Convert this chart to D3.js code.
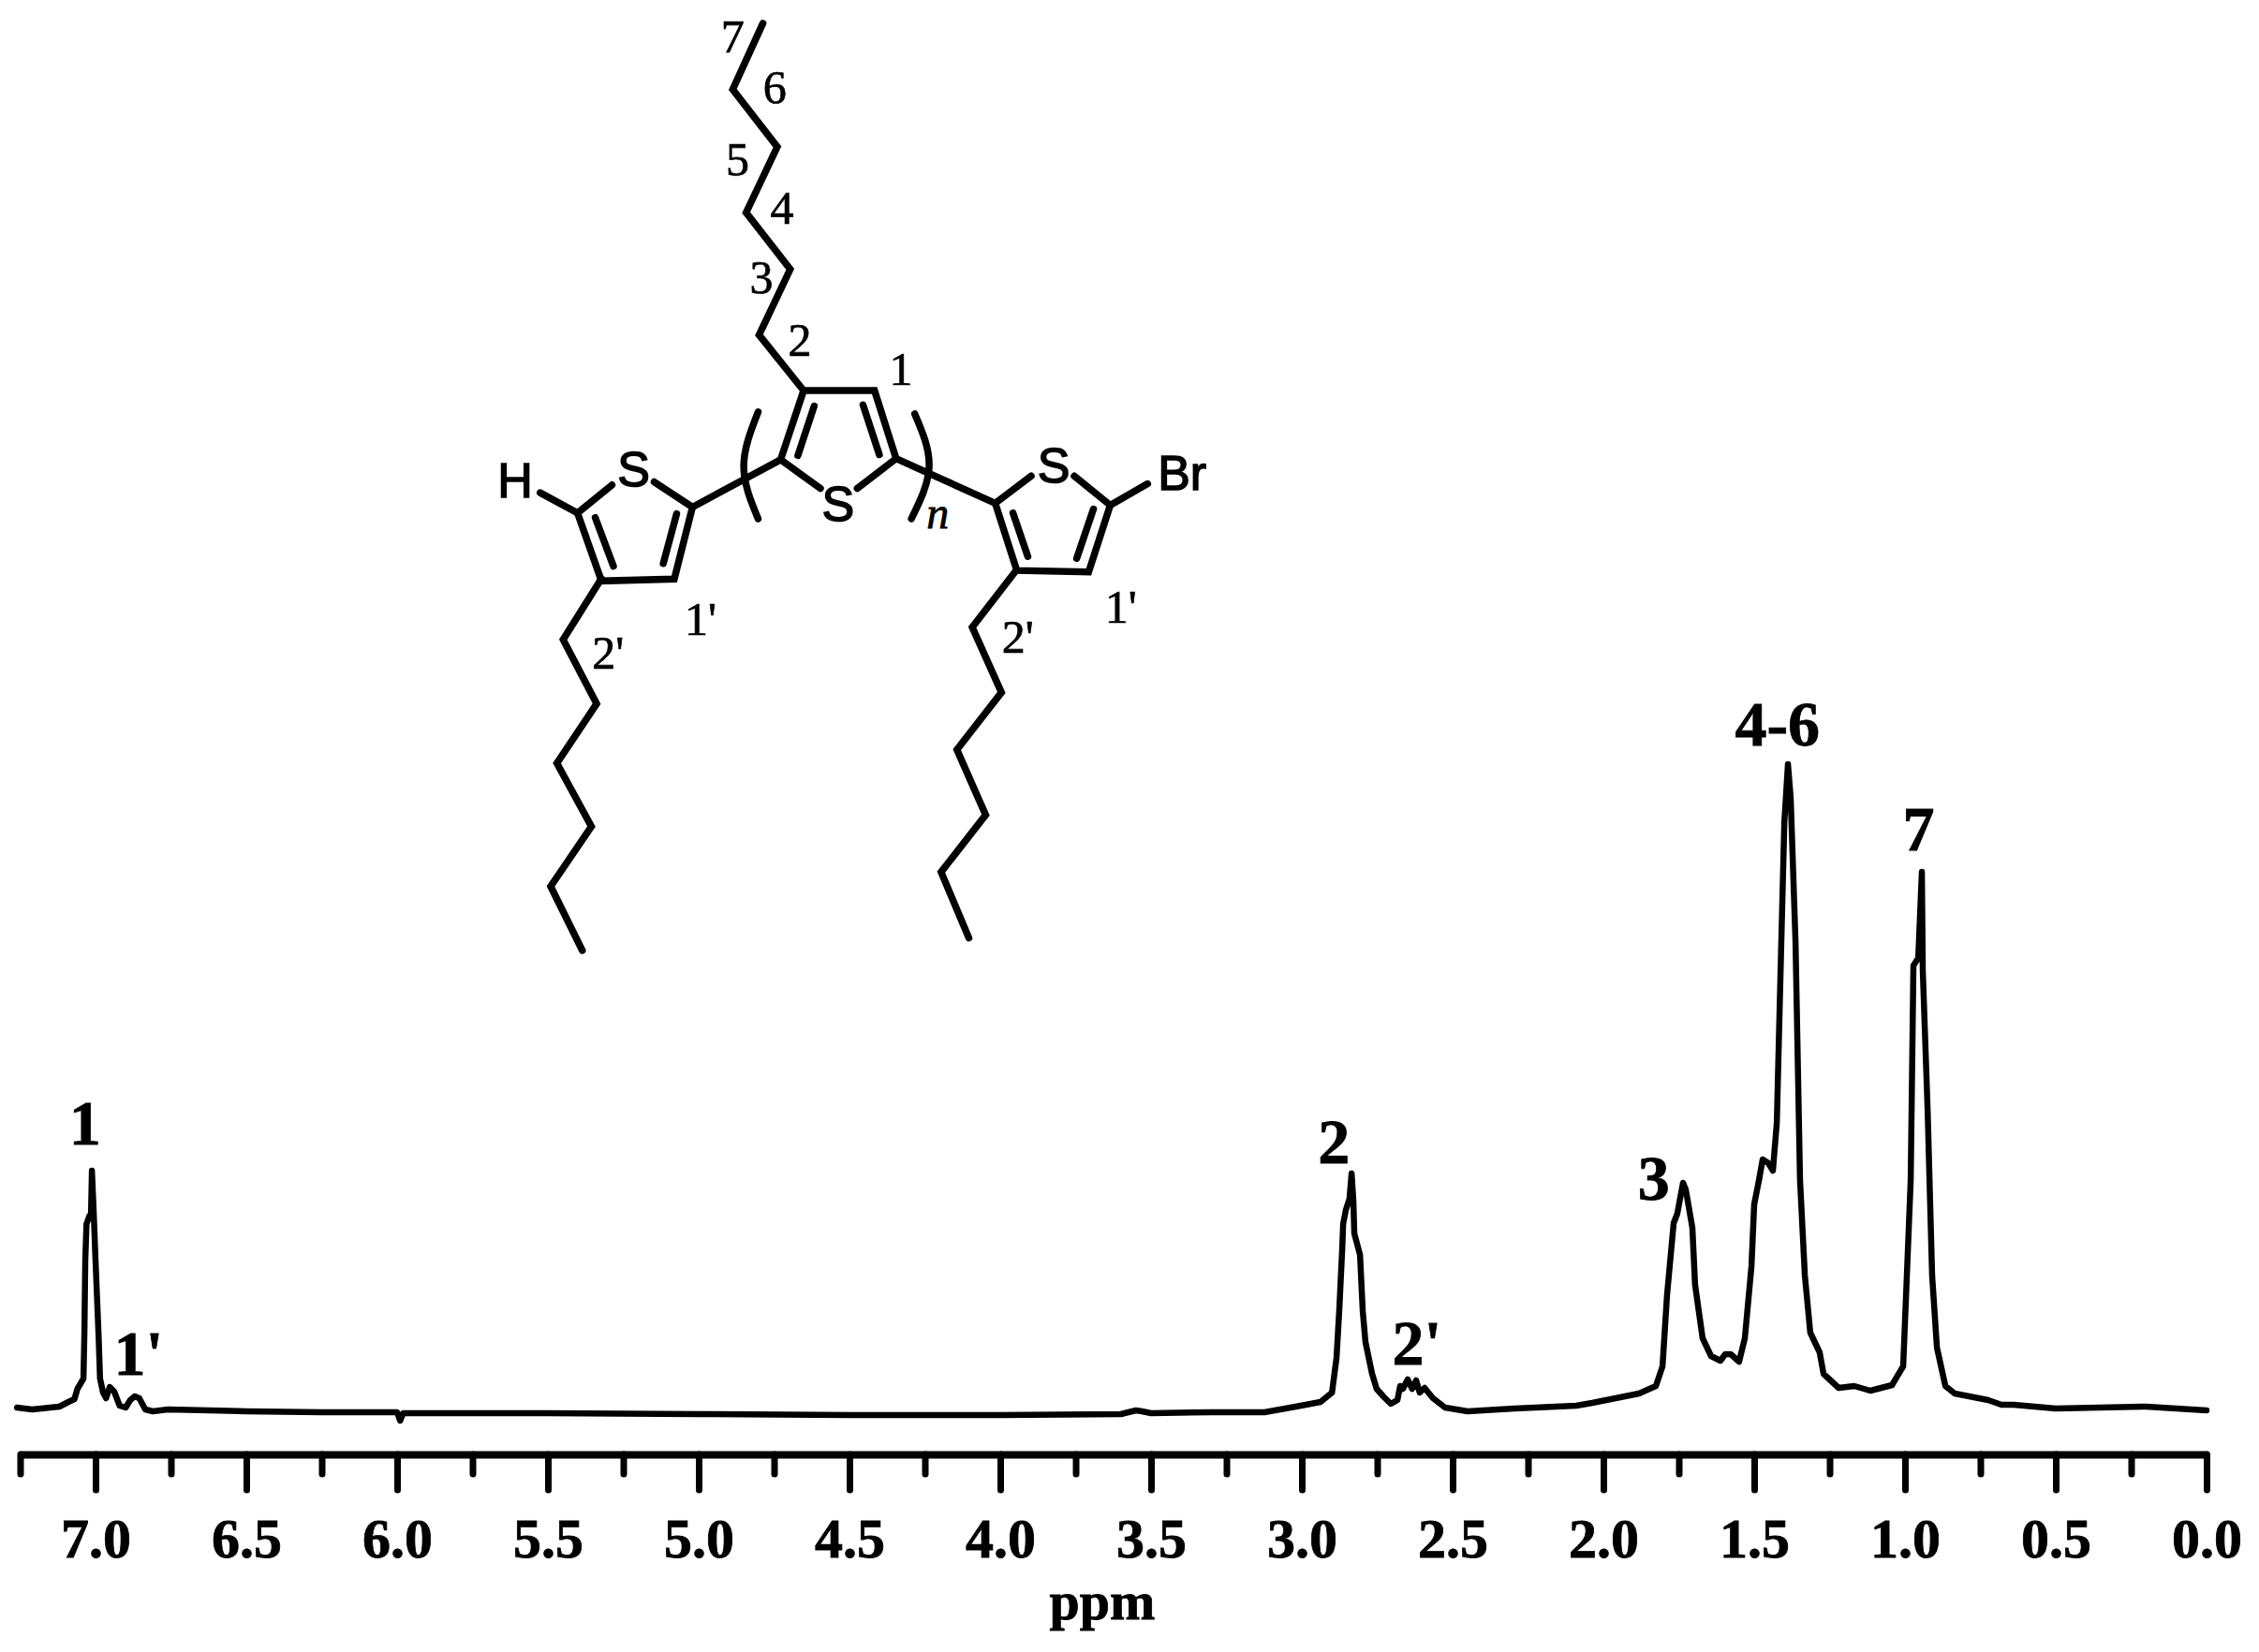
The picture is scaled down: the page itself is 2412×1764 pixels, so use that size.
<!DOCTYPE html>
<html><head><meta charset="utf-8">
<style>html,body{margin:0;background:#fff}svg{display:block}</style>
<script src="https://cdn.jsdelivr.net/npm/d3@7/dist/d3.min.js"></script></head>
<body><script>
const ppm=[7.26,7.21,7.12,7.09,7.07,7.06,7.04,7.037,7.034,7.03,7.02,7.015,7.012,7.006,7.0,6.99,6.985,6.975,6.965,6.953,6.938,6.92,6.90,6.885,6.87,6.855,6.835,6.81,6.76,6.5,6.25,6.0,5.99,5.98,5.5,5.0,4.5,4.0,3.6,3.55,3.53,3.5,3.3,3.124,3.02,2.938,2.90,2.885,2.876,2.866,2.863,2.854,2.842,2.835,2.829,2.826,2.807,2.798,2.789,2.767,2.752,2.727,2.705,2.683,2.674,2.665,2.649,2.634,2.621,2.609,2.593,2.565,2.525,2.45,2.295,2.09,2.037,1.882,1.826,1.804,1.789,1.767,1.755,1.736,1.727,1.705,1.696,1.671,1.643,1.612,1.596,1.578,1.55,1.531,1.509,1.5,1.484,1.472,1.453,1.438,1.425,1.41,1.40,1.388,1.379,1.363,1.348,1.332,1.314,1.283,1.27,1.22,1.168,1.115,1.043,1.006,0.997,0.981,0.972,0.956,0.944,0.941,0.925,0.91,0.894,0.866,0.835,0.724,0.68,0.64,0.5,0.2,0.0];
const intensity=[7,5,8,13,16,27,38,85,164,203,212,213,260,215,164,85,38,23,17,29,24,9,7,15,19,17,5,3,5,3,2,2,-7,1,1,0,-1,-1,0,4,3,1,2,2,8,13,23,60,110,177,203,218,230,257,227,193,170,110,77,43,27,18,11,15,30,27,37,27,36,23,28,17,7,3,6,9,12,22,30,51,127,204,214,247,240,199,138,81,62,57,64,64,56,81,158,224,250,272,268,260,311,505,632,694,658,505,250,148,87,66,43,28,30,25,31,51,122,250,479,487,579,474,326,148,71,30,22,15,10,10,6,8,4];
const majorTicks=[7,6.5,6,5.5,5,4.5,4,3.5,3,2.5,2,1.5,1,0.5,0];
const minorTicks=[7.25,6.75,6.25,5.75,5.25,4.75,4.25,3.75,3.25,2.75,2.25,1.75,1.25,0.75,0.25];
const axisTitle="ppm";
const peakLabels=["1","1'","2","2'","3","4-6","7"];
const peakPpm=[7.035,6.857,2.894,2.618,1.833,1.423,0.955];
const peakHeight=[288,42,268,53,229,714,602];
// Structure drawing, in sketch units
const sideChain=[[615,60],[552,230],[645,378],[580,547],[672,693],[607,862],[700,1005]];
const leftChain=[[278,1489],[198,1646],[268,1811],[185,1964],[257,2127],[172,2281],[238,2446]];
const rightChain=[[1143,1469],[1052,1614],[1113,1782],[1020,1929],[1080,2097],[987,2244],[1045,2414]];
const ringBonds=[
 [[735,1257],[652,1183],[700,1005],[848,1005],[893,1180],[812,1257]],
 [[722,1045],[688,1172]],[[824,1042],[858,1170]],
 [[652,1183],[468,1305]],[[893,1180],[1100,1295]],
 [[388,1240],[468,1305],[430,1490],[278,1495],[228,1320],[300,1248]],
 [[228,1320],[150,1268]],[[435,1322],[407,1450]],[[265,1332],[303,1457]],
 [[1175,1225],[1100,1295],[1145,1468],[1295,1472],[1340,1300],[1265,1225]],
 [[1340,1300],[1418,1245]],[[1137,1320],[1168,1432]],[[1305,1310],[1270,1437]]];
const brackets=[[[605,1060],[575,1200],[605,1335]],[[932,1065],[962,1200],[925,1335]]];
const atoms=[["S",345,1205],["S",772,1295],["S",1222,1195],["H",98,1235],["Br",1490,1215]];
const positions=[["7",552,95],["6",640,225],["5",562,412],["4",655,537],["3",612,715],["2",692,877],["1",903,950],["1'",485,1594],["2'",292,1682],["2'",1147,1639],["1'",1362,1564]];

const W=2412,H=1764;
const svg=d3.select("body").append("svg").attr("width",W).attr("height",H);
const x=d3.scaleLinear().domain([7.25,0]).range([21.5,2356]);
const y=d3.scaleLinear().domain([0,700]).range([1510,810]);
const serif="'Liberation Serif','Times New Roman',serif";

svg.append("path").datum(d3.zip(ppm,intensity)).attr("fill","none").attr("stroke","#000")
  .attr("stroke-width",6.5).attr("stroke-linejoin","round").attr("stroke-linecap","round")
  .attr("d",d3.line().x(d=>x(d[0])).y(d=>y(d[1])));

const axisG=svg.append("g").attr("transform","translate(0,1553)");
axisG.call(d3.axisBottom(x).tickValues(majorTicks).tickSize(38).tickSizeOuter(0).tickPadding(29).tickFormat(d3.format(".1f")));
axisG.append("g").call(d3.axisBottom(x).tickValues(minorTicks).tickSize(21).tickSizeOuter(0).tickFormat(""))
  .select(".domain").remove();
axisG.selectAll("line").attr("stroke","#000").attr("stroke-width",7).attr("stroke-linecap","round");
axisG.select(".domain").attr("stroke","#000").attr("stroke-width",8).attr("stroke-linejoin","round");
axisG.selectAll("text").attr("font-family",serif).attr("font-weight","bold").attr("font-size",60).attr("fill","#000")
  .attr("stroke","#000").attr("stroke-width",0.8);

svg.append("text").text(axisTitle).attr("x",1177).attr("y",1729).attr("text-anchor","middle")
  .attr("font-family",serif).attr("font-weight","bold").attr("font-size",58).attr("stroke","#000").attr("stroke-width",0.8);

svg.append("g").selectAll("text").data(d3.zip(peakLabels,peakPpm,peakHeight)).join("text")
  .text(d=>d[0]).attr("x",d=>x(d[1])).attr("y",d=>y(d[2])).attr("text-anchor","middle")
  .attr("font-family",serif).attr("font-weight","bold").attr("font-size",68).attr("stroke","#000").attr("stroke-width",0.8);

const sx=d3.scaleLinear().domain([0,1955]).range([500,1500]);
const sy=d3.scaleLinear().domain([0,2410]).range([0,1000]);
const bond=d3.line().x(d=>sx(d[0])).y(d=>sy(d[1]));
const mol=svg.append("g").attr("fill","none").attr("stroke","#000").attr("stroke-width",7.5)
  .attr("stroke-linecap","round").attr("stroke-linejoin","miter");
mol.selectAll("path.b").data([sideChain,leftChain,rightChain,...ringBonds]).join("path").attr("class","b").attr("d",bond);
mol.selectAll("path.k").data(brackets).join("path").attr("class","k").attr("d",bond.curve(d3.curveNatural));

svg.append("g").selectAll("text").data(atoms).join("text").text(d=>d[0])
  .attr("x",d=>sx(d[1])).attr("y",d=>sy(d[2])).attr("dy","0.36em").attr("text-anchor","middle")
  .attr("font-family","'Liberation Sans',Arial,sans-serif").attr("font-size",52)
  .attr("stroke","#000").attr("stroke-width",1.5);
svg.append("g").selectAll("text").data(positions).join("text").text(d=>d[0])
  .attr("x",d=>sx(d[1])).attr("y",d=>sy(d[2])).attr("dy","0.33em").attr("text-anchor","middle")
  .attr("font-family",serif).attr("font-size",50).attr("stroke","#000").attr("stroke-width",0.7);
svg.append("text").text("n").attr("x",sx(980)).attr("y",sy(1330)).attr("dy","0.25em").attr("text-anchor","middle")
  .attr("font-family",serif).attr("font-style","italic").attr("font-size",48).attr("stroke","#000").attr("stroke-width",0.8);
</script></body></html>
